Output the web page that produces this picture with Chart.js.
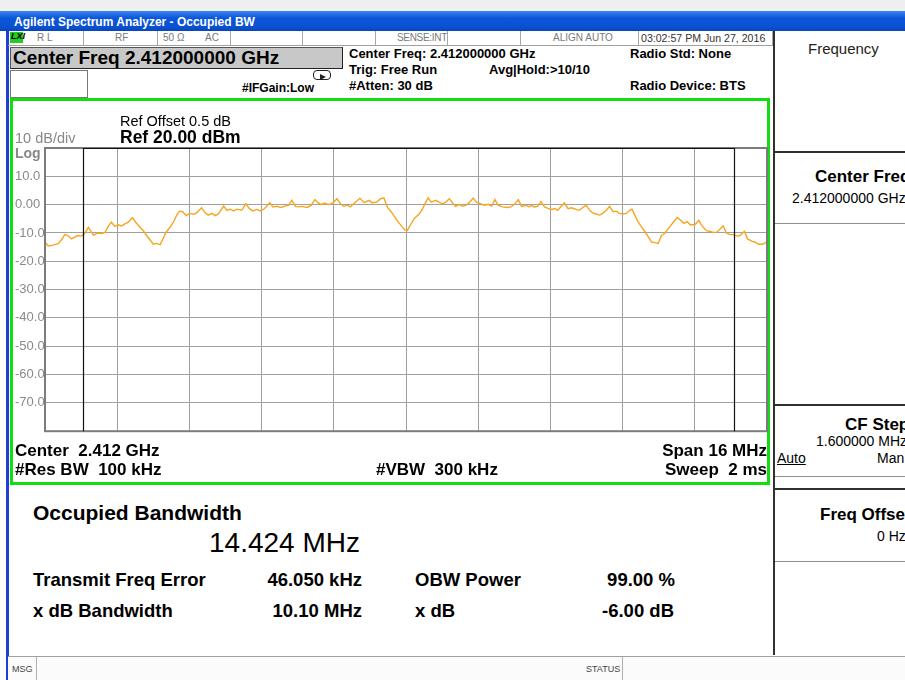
<!DOCTYPE html>
<html>
<head>
<meta charset="utf-8">
<script src="https://cdn.jsdelivr.net/npm/chart.js@4.4.1/dist/chart.umd.min.js"></script>
<style>
body { margin:0; width:905px; height:680px; overflow:hidden; position:relative; background:#fff;
       font-family:"Liberation Sans", Arial, sans-serif; }
.a { position:absolute; white-space:pre; line-height:1; }
.b { font-weight:bold; }
#titlebar { position:absolute; left:0; top:11px; width:905px; height:20px;
            background:linear-gradient(#3d86f2, #0b56da 35%, #0a50d2 80%, #0845b8); }
#titlebar span { position:absolute; left:14px; top:4px; color:#fff; font-weight:bold; font-size:12px; }
#status { position:absolute; left:8px; top:31px; width:765px; height:14px; border-bottom:1px solid #a0a0a0; }
.cell { position:absolute; top:0; height:14px; border-right:1px solid #a8a8a8; }
.st { font-size:10px; color:#7a7a7a; top:33px; }
#cfbox { position:absolute; left:10px; top:47px; width:331px; height:20px; background:#c8c8c8;
         border:1px solid #555; border-right-color:#222; border-bottom-color:#222; }
#inbox { position:absolute; left:10px; top:70px; width:76px; height:26px; border:1px solid #777; background:#fff; }
#green { position:absolute; left:10px; top:98px; width:754px; height:381px; border:3px solid #11dd11; background:#fff; }
#plot { position:absolute; left:13px; top:100px; }
#right { position:absolute; left:773px; top:31px; width:132px; height:624px; border-left:2px solid #303030; background:#fff; }
.btn { position:absolute; left:775px; width:130px; border-top:2px solid #303030; border-bottom:1px solid #909090; }
.bt { font-weight:bold; font-size:17px; }
.bv { font-size:14px; }
#footer { position:absolute; left:8px; top:656px; width:897px; height:24px; border-top:1px solid #a0a0a0; background:#fbfbfb; }
.hd { font-weight:bold; font-size:13px; }
.ax { font-weight:bold; font-size:17px; }
.rs { font-weight:bold; font-size:18.5px; }
</style>
</head>
<body>
<div style="position:absolute;left:0;top:0;width:905px;height:11px;background:#efefef"></div>
<div id="titlebar"><span>Agilent Spectrum Analyzer - Occupied BW</span></div>
<div style="position:absolute;left:6px;top:31px;width:3px;height:649px;background:#1c3fd4"></div>

<div id="status">
  <div class="cell" style="left:0;width:75px"></div>
  <div class="cell" style="left:75px;width:74px"></div>
  <div class="cell" style="left:149px;width:73px"></div>
  <div class="cell" style="left:222px;width:72px"></div>
  <div class="cell" style="left:294px;width:73px"></div>
  <div class="cell" style="left:367px;width:72px"></div>
  <div class="cell" style="left:439px;width:73px"></div>
  <div class="cell" style="left:512px;width:118px"></div>
  <div class="cell" style="left:630px;width:134px"></div>
</div>
<div class="a b" style="left:10px;top:32px;width:12px;height:11px;background:#22cc22;font-size:9px;font-style:italic;color:#000;padding-left:1px">LXI</div>
<div class="a st" style="left:37px">R L</div>
<div class="a st" style="left:115px">RF</div>
<div class="a st" style="left:163px">50 Ω</div>
<div class="a st" style="left:205px">AC</div>
<div class="a st" style="right:458px;letter-spacing:-0.3px">SENSE:INT</div>
<div class="a st" style="left:553px">ALIGN AUTO</div>
<div class="a st" style="left:641px;color:#333;font-size:10.6px">03:02:57 PM Jun 27, 2016</div>

<div id="cfbox"></div>
<div class="a b" style="left:13px;top:48px;font-size:19px">Center Freq 2.412000000 GHz</div>
<div id="inbox"></div>
<div class="a" style="left:313px;top:70px;width:16px;height:8px;border:1px solid #222;border-radius:4px"></div>
<div class="a" style="left:320px;top:74px;width:0;height:0;border-left:6px solid #222;border-top:3px solid transparent;border-bottom:3px solid transparent"></div>
<div class="a b" style="left:242px;top:82px;font-size:12px">#IFGain:Low</div>
<div class="a hd" style="left:349px;top:47px">Center Freq: 2.412000000 GHz</div>
<div class="a hd" style="left:349px;top:63px">Trig: Free Run</div>
<div class="a hd" style="left:349px;top:79px">#Atten: 30 dB</div>
<div class="a hd" style="left:489px;top:63px">Avg|Hold:&gt;10/10</div>
<div class="a hd" style="left:630px;top:47px">Radio Std: None</div>
<div class="a hd" style="left:630px;top:79px">Radio Device: BTS</div>

<div id="green"></div>
<canvas id="plot" width="757" height="342"></canvas>
<div class="a" style="left:120px;top:114px;font-size:14.5px">Ref Offset 0.5 dB</div>
<div class="a b" style="left:120px;top:129px;font-size:17.5px">Ref 20.00 dBm</div>
<div class="a" style="left:15px;top:131px;font-size:14.5px;color:#888">10 dB/div</div>
<div class="a b" style="left:15px;top:146px;font-size:14px;color:#888">Log</div>
<div class="a ax" style="left:15px;top:442px">Center  2.412 GHz</div>
<div class="a ax" style="left:15px;top:461px">#Res BW  100 kHz</div>
<div class="a ax" style="left:376px;top:461px">#VBW  300 kHz</div>
<div class="a ax" style="right:138px;top:442px">Span 16 MHz</div>
<div class="a ax" style="right:138px;top:461px">Sweep  2 ms</div>

<div class="a b" style="left:33px;top:502px;font-size:21px">Occupied Bandwidth</div>
<div class="a" style="left:209px;top:529px;font-size:28px">14.424 MHz</div>
<div class="a rs" style="left:33px;top:571px">Transmit Freq Error</div>
<div class="a rs" style="right:543px;top:571px">46.050 kHz</div>
<div class="a rs" style="left:415px;top:571px">OBW Power</div>
<div class="a rs" style="right:230px;top:571px">99.00 %</div>
<div class="a rs" style="left:33px;top:602px">x dB Bandwidth</div>
<div class="a rs" style="right:543px;top:602px">10.10 MHz</div>
<div class="a rs" style="left:415px;top:602px">x dB</div>
<div class="a rs" style="right:231px;top:602px">-6.00 dB</div>

<div id="right"></div>
<div class="a" style="left:808px;top:41px;font-size:15px;color:#222">Frequency</div>
<div class="btn" style="top:151px;height:70px"></div>
<div class="a bt" style="left:815px;top:168px">Center Freq</div>
<div class="a bv" style="left:792px;top:191px">2.412000000 GHz</div>
<div class="btn" style="top:404px;height:70px"></div>
<div class="a bt" style="left:845px;top:416px">CF Step</div>
<div class="a bv" style="left:816px;top:434px">1.600000 MHz</div>
<div class="a bv" style="left:777px;top:451px;text-decoration:underline">Auto</div>
<div class="a bv" style="left:877px;top:451px">Man</div>
<div class="btn" style="top:488px;height:71px"></div>
<div class="a bt" style="left:820px;top:506px">Freq Offset</div>
<div class="a bv" style="left:877px;top:529px">0 Hz</div>

<div id="footer"></div>
<div class="a" style="left:12px;top:665px;font-size:9px;color:#444">MSG</div>
<div style="position:absolute;left:36px;top:657px;width:1px;height:23px;background:#b0b0b0"></div>
<div class="a" style="left:586px;top:665px;font-size:9px;color:#444">STATUS</div>
<div style="position:absolute;left:622px;top:657px;width:1px;height:23px;background:#b0b0b0"></div>

<script>
// trace: frequency offset from 2.412 GHz (MHz) and level (dBm)
const freqMHz = [
  -8.00, -7.93, -7.82, -7.71, -7.64, -7.56, -7.49, -7.41, -7.34, -7.27, -7.19, -7.12, -7.04, -6.97, -6.92, -6.84,
  -6.75, -6.67, -6.60, -6.53, -6.45, -6.38, -6.30, -6.23, -6.16, -6.06, -5.99, -5.90, -5.82, -5.75, -5.67, -5.60,
  -5.53, -5.45, -5.39, -5.32, -5.23, -5.16, -5.08, -5.02, -4.95, -4.87, -4.80, -4.71, -4.64, -4.53, -4.45, -4.38,
  -4.30, -4.23, -4.16, -4.04, -3.97, -3.90, -3.82, -3.75, -3.64, -3.55, -3.47, -3.39, -3.30, -3.23, -3.16, -3.10,
  -3.02, -2.95, -2.86, -2.77, -2.70, -2.60, -2.53, -2.45, -2.38, -2.30, -2.19, -2.10, -2.02, -1.95, -1.88, -1.81,
  -1.71, -1.61, -1.53, -1.45, -1.38, -1.30, -1.23, -1.16, -1.02, -0.93, -0.82, -0.75, -0.65, -0.56, -0.49, -0.41,
  -0.33, -0.25, -0.18, -0.10, -0.03, 0.03, 0.10, 0.19, 0.29, 0.36, 0.44, 0.49, 0.56, 0.66, 0.73, 0.81,
  0.88, 0.96, 1.03, 1.10, 1.18, 1.25, 1.33, 1.40, 1.49, 1.56, 1.66, 1.73, 1.82, 1.90, 1.97, 2.04,
  2.14, 2.24, 2.33, 2.40, 2.49, 2.56, 2.66, 2.73, 2.77, 2.84, 2.92, 2.99, 3.07, 3.16, 3.23, 3.30,
  3.36, 3.44, 3.51, 3.59, 3.67, 3.77, 3.84, 3.92, 3.99, 4.07, 4.14, 4.21, 4.29, 4.36, 4.44, 4.51,
  4.59, 4.66, 4.73, 4.81, 4.88, 4.96, 5.01, 5.07, 5.14, 5.21, 5.29, 5.36, 5.44, 5.51, 5.59, 5.66,
  5.73, 5.82, 5.92, 6.01, 6.08, 6.16, 6.23, 6.30, 6.40, 6.49, 6.56, 6.66, 6.73, 6.81, 6.88, 6.96,
  7.03, 7.10, 7.18, 7.25, 7.33, 7.40, 7.50, 7.57, 7.66, 7.73, 7.81, 7.90, 7.97, 8.00
];
const levelDbm = [
  -13.2, -14.6, -14.3, -13.8, -12.5, -10.6, -10.9, -12.1, -11.5, -10.9, -11.1, -10.2, -8.0, -9.7, -10.8, -10.0,
  -10.2, -9.8, -7.7, -6.2, -7.7, -7.1, -7.5, -6.8, -6.3, -4.6, -6.2, -7.9, -9.2, -10.9, -12.5, -14.0,
  -13.7, -14.1, -12.3, -9.8, -8.0, -6.3, -3.7, -2.3, -2.5, -3.9, -3.1, -3.4, -2.9, -1.1, -2.9, -3.7,
  -3.1, -3.9, -3.3, -0.5, -2.0, -1.6, -2.2, -1.6, -2.0, 0.3, -1.4, -2.2, -1.7, -2.2, -1.7, -0.8,
  0.7, -0.8, -0.6, -1.0, -0.6, -0.2, 1.5, -0.6, -0.8, -0.6, -1.0, -0.2, 1.8, 0.7, 0.0, 0.6,
  0.0, 0.7, 2.1, 0.3, -0.6, -0.2, -0.8, 0.3, 2.3, 0.7, 1.5, 0.7, 0.9, 2.1, 2.4, -1.0,
  -2.5, -4.3, -6.0, -7.5, -8.9, -9.1, -7.1, -4.8, -3.3, -1.7, 0.9, 2.4, 0.9, 1.5, 0.9, 0.3,
  0.9, 2.1, 0.6, -0.6, 0.1, -0.6, -0.2, 0.7, 2.3, 0.9, 0.3, -0.2, 0.1, -0.5, 1.8, -0.2,
  -0.8, -1.0, -0.8, 0.1, 1.7, -0.6, -0.2, -0.8, -0.2, -0.8, -0.6, 1.1, -0.8, -1.4, -1.7, -1.4,
  -2.0, -0.6, 0.6, -1.4, -1.1, -1.7, -2.0, -1.0, -0.2, -2.0, -2.9, -3.3, -3.7, -3.1, -2.0, -0.6,
  -2.5, -2.3, -3.1, -3.3, -3.1, -2.0, -1.6, -3.7, -6.0, -7.7, -9.4, -11.1, -13.2, -13.4, -13.7, -10.9,
  -10.2, -8.3, -6.3, -4.5, -5.4, -6.6, -6.0, -7.1, -7.1, -5.6, -7.5, -9.2, -9.4, -9.8, -9.8, -8.6,
  -7.5, -10.0, -10.6, -10.6, -11.1, -10.9, -9.4, -12.1, -12.9, -13.2, -14.0, -14.0, -13.4, -12.9
];

// graticule: 10 dB/div from the 20 dBm reference, 10 divisions across the 16 MHz span
const yGridDbm = [20, 10, 0, -10, -20, -30, -40, -50, -60, -70, -80];
const yTickLabels = ['', '10.0', '0.00', '-10.0', '-20.0', '-30.0', '-40.0', '-50.0', '-60.0', '-70.0', ''];
const xGridMHz = [-8, -6.4, -4.8, -3.2, -1.6, 0, 1.6, 3.2, 4.8, 6.4, 8];

// occupied bandwidth result
const obwMHz = 14.424;
const freqErrorMHz = 0.04605;

const gridColor = '#a0a0a0';

// outer frame of the graticule plus the OBW bracket
const obwMarker = {
  id: 'obwMarker',
  afterDatasetsDraw(chart) {
    const { ctx, chartArea: a, scales: { x } } = chart;
    ctx.save();
    ctx.strokeStyle = '#7c7c7c';
    ctx.lineWidth = 2;
    ctx.strokeRect(a.left, a.top, a.right - a.left, a.bottom - a.top);
    const lo = Math.round(x.getPixelForValue(freqErrorMHz - obwMHz / 2)) + 0.5;
    const hi = Math.round(x.getPixelForValue(freqErrorMHz + obwMHz / 2)) + 0.5;
    ctx.strokeStyle = '#111';
    ctx.lineWidth = 1.2;
    ctx.beginPath();
    ctx.moveTo(lo, a.bottom);
    ctx.lineTo(lo, a.top + 0.5);
    ctx.lineTo(hi, a.top + 0.5);
    ctx.lineTo(hi, a.bottom);
    ctx.stroke();
    ctx.restore();
  }
};

new Chart(document.getElementById('plot'), {
  type: 'line',
  data: {
    datasets: [{
      data: freqMHz.map((f, i) => ({ x: f, y: levelDbm[i] })),
      borderColor: '#f7a51c',
      borderWidth: 1.4,
      pointRadius: 0,
      tension: 0,
    }]
  },
  options: {
    responsive: false,
    animation: false,
    devicePixelRatio: 1,
    layout: { padding: { top: 48, right: 3, bottom: 4, left: 2 } },
    plugins: { legend: { display: false }, tooltip: { enabled: false } },
    scales: {
      x: {
        type: 'linear',
        min: -8,
        max: 8,
        afterBuildTicks: s => { s.ticks = xGridMHz.map(v => ({ value: v })); },
        afterFit: s => { s.height = 0; },
        ticks: { display: false },
        border: { display: false },
        grid: { color: gridColor, drawTicks: false },
      },
      y: {
        min: -80,
        max: 20,
        afterBuildTicks: s => { s.ticks = yGridDbm.map(v => ({ value: v })); },
        afterFit: s => { s.width = 30; },
        border: { display: false },
        grid: { color: gridColor, drawTicks: false },
        ticks: {
          crossAlign: 'far',
          color: '#8a8a8a',
          font: { family: '"Liberation Sans", Arial, sans-serif', size: 13 },
          callback: v => yTickLabels[yGridDbm.indexOf(v)],
        },
      },
    }
  },
  plugins: [obwMarker]
});
</script>
</body>
</html>
